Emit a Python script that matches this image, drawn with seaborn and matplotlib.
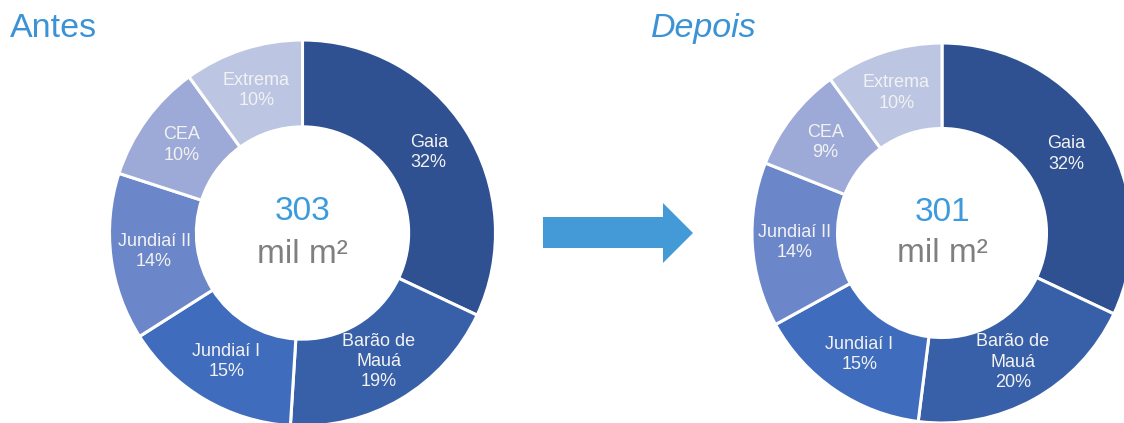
import matplotlib
matplotlib.use("Agg")
import matplotlib.pyplot as plt
import seaborn as sns
import numpy as np
from matplotlib.patches import Polygon

# data
sites = ["Gaia", "Barão de\nMauá", "Jundiaí I", "Jundiaí II", "CEA", "Extrema"]
antes_pct = [32, 19, 15, 14, 10, 10]
depois_pct = [32, 20, 15, 14, 9, 10]
antes_total = 303
depois_total = 301
titles = ["Antes", "Depois"]
colors = ["#2F5191", "#3860A8", "#3F6CBC", "#6B86C9", "#9DAAD7", "#BCC6E3"]

sns.set_style("white")
plt.rcParams["font.family"] = ["Liberation Sans", "DejaVu Sans"]

W, H = 1124, 423
fig = plt.figure(figsize=(W / 100, H / 100), dpi=100)


def donut(cx, cy, r, values, total):
    # cx, cy, r in pixels (cy from top)
    ax = fig.add_axes([(cx - r) / W, (H - cy - r) / H, 2 * r / W, 2 * r / H])
    wedges, _ = ax.pie(values, colors=colors, startangle=90, counterclock=False,
                       radius=1, wedgeprops=dict(width=0.45, edgecolor="white", linewidth=2.2))
    for w, name, v in zip(wedges, sites, values):
        ang = np.deg2rad((w.theta1 + w.theta2) / 2)
        rr = 0.775
        ax.text(rr * np.cos(ang), rr * np.sin(ang), f"{name}\n{v}%", ha="center", va="center",
                fontsize=13, color="#F2F2F2", linespacing=1.25)
    ax.text(0, 0.11, str(total), ha="center", va="center", fontsize=24, color="#3C9BDC")
    ax.text(0, -0.11, "mil m²", ha="center", va="center", fontsize=24, color="#7F7F7F")
    ax.set_xlim(-1, 1)
    ax.set_ylim(-1, 1)
    ax.set_aspect("equal")
    ax.axis("off")
    for p in ax.patches:
        p.set_clip_on(False)
    return ax


donut(302.5, 233, 193, antes_pct, antes_total)
donut(942, 233, 190, depois_pct, depois_total)

# overlay in pixel coordinates for titles and arrow
ov = fig.add_axes([0, 0, 1, 1], zorder=-1)
ov.set_xlim(0, W)
ov.set_ylim(H, 0)
ov.axis("off")
ov.text(10, 37, titles[0], fontsize=24.5, color="#3B93D6", ha="left", va="baseline")
ov.text(651, 37, titles[1], fontsize=24.5, color="#3B93D6", ha="left", va="baseline", style="italic")
arrow = Polygon([[543, 217], [663, 217], [663, 203], [693, 233], [663, 263], [663, 248], [543, 248]],
                closed=True, facecolor="#4499D7", edgecolor="none")
ov.add_patch(arrow)

fig.savefig("out.png", dpi=100, facecolor="white")
